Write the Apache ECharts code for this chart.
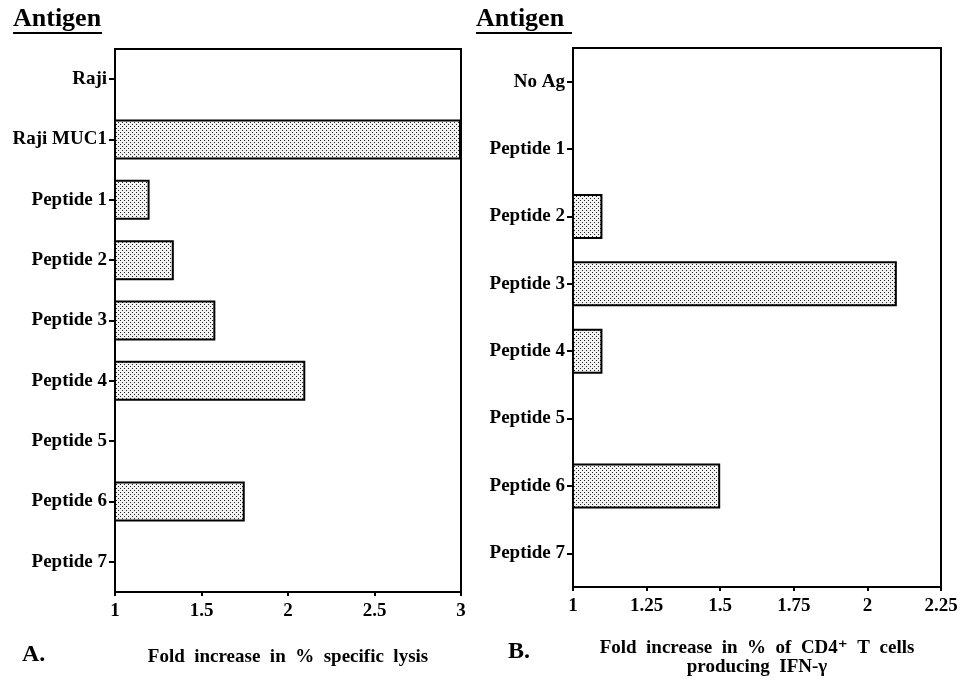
<!DOCTYPE html>
<html>
<head>
<meta charset="utf-8">
<script src="https://cdn.jsdelivr.net/npm/echarts@6/dist/echarts.min.js"></script>
<style>html,body{margin:0;padding:0;background:#fff}#c{width:971px;height:685px}</style>
</head>
<body>
<div id="c"></div>
<script>
const categoriesA = ['Raji', 'Raji MUC1', 'Peptide 1', 'Peptide 2', 'Peptide 3', 'Peptide 4', 'Peptide 5', 'Peptide 6', 'Peptide 7'];
const valuesA = [null, 3, 1.2, 1.34, 1.58, 2.1, null, 1.75, null];
const categoriesB = ['No Ag', 'Peptide 1', 'Peptide 2', 'Peptide 3', 'Peptide 4', 'Peptide 5', 'Peptide 6', 'Peptide 7'];
const valuesB = [null, null, 1.1, 2.1, 1.1, null, 1.5, null];
const ticksA = [1, 1.5, 2, 2.5, 3];
const ticksB = [1, 1.25, 1.5, 1.75, 2, 2.25];

const font = '"Liberation Serif", "DejaVu Serif", serif';

// stipple pattern
const pat = document.createElement('canvas');
pat.width = 4; pat.height = 4;
const pc = pat.getContext('2d');
pc.fillStyle = '#f2f2f2'; pc.fillRect(0, 0, 4, 4);
pc.fillStyle = '#222';
pc.fillRect(0, 0, 1, 1);
pc.fillRect(2, 2, 1, 1);

const barStyle = {
  color: { image: pat, repeat: 'repeat' },
  borderColor: '#000',
  borderWidth: 2
};

const labelStyle = { color: '#000', fontFamily: font, fontWeight: 'bold', fontSize: 19 };

function valAxis(idx, min, max, interval, name, gap) {
  return {
    type: 'value', gridIndex: idx, min: min, max: max, interval: interval,
    name: name, nameLocation: 'middle', nameGap: gap,
    nameTextStyle: { color: '#000', fontFamily: font, fontWeight: 'bold', fontSize: 19, lineHeight: 19 },
    axisLine: { show: true, lineStyle: { color: '#000', width: 2 } },
    axisTick: { show: true, length: 4, lineStyle: { color: '#000', width: 2 } },
    axisLabel: Object.assign({ margin: 10 }, labelStyle),
    splitLine: { show: false }
  };
}
function catAxis(idx, data) {
  return {
    type: 'category', gridIndex: idx, data: data, inverse: true,
    axisLine: { show: true, lineStyle: { color: '#000', width: 2 } },
    axisTick: { show: true, alignWithLabel: true, length: 6, lineStyle: { color: '#000', width: 2 } },
    axisLabel: Object.assign({ margin: 8 }, labelStyle),
    splitLine: { show: false }
  };
}

const chart = echarts.init(document.getElementById('c'), null, { renderer: 'canvas' });
chart.setOption({
  backgroundColor: '#fff',
  animation: false,
  grid: [
    { left: 115, right: 510, top: 49, bottom: 93, show: true, borderColor: '#000', borderWidth: 2, backgroundColor: 'transparent' },
    { left: 573, right: 30, top: 48, bottom: 98, show: true, borderColor: '#000', borderWidth: 2, backgroundColor: 'transparent' }
  ],
  xAxis: [
    valAxis(0, ticksA[0], ticksA[ticksA.length - 1], 0.5, 'Fold  increase  in  %  specific  lysis', 56),
    valAxis(1, ticksB[0], ticksB[ticksB.length - 1], 0.25, 'Fold  increase  in  %  of  CD4\u207A  T  cells\nproducing  IFN-\u03B3', 52)
  ],
  yAxis: [catAxis(0, categoriesA), catAxis(1, categoriesB)],
  series: [
    { type: 'bar', xAxisIndex: 0, yAxisIndex: 0, data: valuesA, barWidth: 40, itemStyle: barStyle },
    { type: 'bar', xAxisIndex: 1, yAxisIndex: 1, data: valuesB, barWidth: 45, itemStyle: barStyle }
  ],
  graphic: [
    { type: 'text', left: 13, top: 6, style: { text: 'Antigen', font: 'bold 26px ' + font, fill: '#000' } },
    { type: 'line', shape: { x1: 13, y1: 33, x2: 102, y2: 33 }, style: { stroke: '#000', lineWidth: 2 } },
    { type: 'text', left: 476, top: 6, style: { text: 'Antigen', font: 'bold 26px ' + font, fill: '#000' } },
    { type: 'line', shape: { x1: 476, y1: 33, x2: 572, y2: 33 }, style: { stroke: '#000', lineWidth: 2 } },
    { type: 'text', left: 22, top: 643, style: { text: 'A.', font: 'bold 24px ' + font, fill: '#000' } },
    { type: 'text', left: 508, top: 640, style: { text: 'B.', font: 'bold 24px ' + font, fill: '#000' } }
  ]
});
</script>
</body>
</html>
